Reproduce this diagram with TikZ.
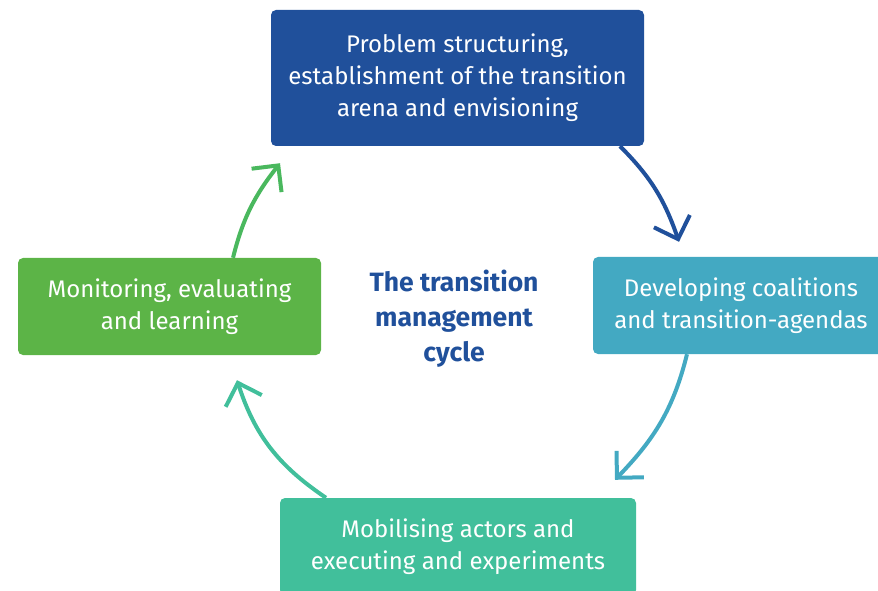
\documentclass[tikz,border=0pt]{standalone}
\usepackage{fontspec}
\setmainfont{Fira Sans}
\usetikzlibrary{arrows.meta}
\definecolor{cblue}{HTML}{20509B}
\definecolor{cteal}{HTML}{43A9C2}
\definecolor{cmint}{HTML}{41BF9B}
\definecolor{cgreen}{HTML}{5CB447}
\definecolor{cgarrow}{HTML}{4AB85E}
\begin{document}
\begin{tikzpicture}[x=1pt,y=1pt,
  stagebox/.style={rounded corners=5pt, inner sep=0pt, text=white, align=center,
    font=\fontsize{24}{32}\selectfont},
  cyclearrow/.style={line width=4pt, -{Straight Barb[length=19pt,width=38pt]}}]
\useasboundingbox (0,0) rectangle (878,590);
\node[stagebox, fill=cblue, minimum width=373pt, minimum height=136pt] (top) at (457.5,512)
  {Problem structuring,\\establishment of the transition\\arena and envisioning};
\node[stagebox, fill=cteal, minimum width=296pt, minimum height=97pt] (right) at (741,284.5)
  {Developing coalitions\\and transition-agendas};
\node[stagebox, fill=cmint, minimum width=356pt, minimum height=97pt] (bottom) at (458,43.5)
  {Mobilising actors and\\executing and experiments};
\node[stagebox, fill=cgreen, minimum width=303pt, minimum height=97pt] (left) at (169.5,283.5)
  {Monitoring, evaluating\\and learning};
\node[text=cblue, align=center, font=\bfseries\fontsize{26.5}{35}\selectfont] (center) at (454,271)
  {The transition\\management\\cycle};
\draw[cyclearrow, cblue] ([xshift=162.5pt]top.south) to[out=-45,in=109] ([xshift=-62pt,yshift=15pt]right.north);
\draw[cyclearrow, cteal] ([xshift=-54pt]right.south) to[out=-104,in=46] ([xshift=157pt,yshift=18pt]bottom.north);
\draw[cyclearrow, cmint] ([xshift=-132pt]bottom.north) to[out=146,in=-72] ([xshift=67.5pt,yshift=-25pt]left.south);
\draw[cyclearrow, cgarrow] ([xshift=63.5pt]left.north) to[out=76,in=232] ([xshift=-177.5pt,yshift=-17pt]top.south);
\end{tikzpicture}
\end{document}
